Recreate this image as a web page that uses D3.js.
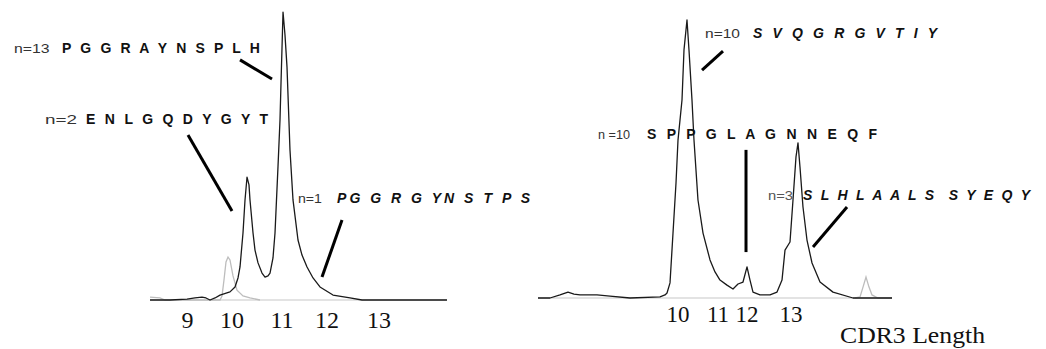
<!DOCTYPE html>
<html>
<head>
<meta charset="utf-8">
<script src="https://cdn.jsdelivr.net/npm/d3@7"></script>
<style>
  body { margin: 0; background: #fff; }
  svg { display: block; }
  .seq { white-space: pre; }
</style>
</head>
<body>
<div id="chart"></div>
<script>
// ---- data: traces as [CDR3 length position, relative intensity] ----
const leftTrace = [
  [8.292, 0], [8.708, 0], [9.063, 0.3], [9.229, 0.7], [9.375, 1.0], [9.458, 0.7],
  [9.542, 0], [9.646, 0.7], [9.75, 1.7], [9.958, 2.8], [10.063, 4.5], [10.125, 7.6],
  [10.167, 11.4], [10.229, 23.1], [10.271, 34.5], [10.313, 42.4], [10.354, 39.7],
  [10.375, 34.5], [10.438, 23.1], [10.479, 17.2], [10.542, 12.8], [10.625, 9.3],
  [10.688, 7.9], [10.75, 8.3], [10.792, 9.3], [10.854, 14.5], [10.896, 23.1],
  [10.958, 45.9], [11.0, 62.1], [11.021, 74.8], [11.063, 99.3], [11.104, 91.4],
  [11.146, 80.3], [11.208, 51.7], [11.271, 34.5], [11.375, 20.7], [11.458, 15.5],
  [11.563, 11.4], [11.688, 7.6], [11.833, 4.5], [12.104, 1.7], [12.458, 0.7],
  [12.708, 0], [14.479, 0]
];
const leftControl = [
  [8.292, 1.0], [8.5, 0.7], [8.604, 0], [9.75, 0], [9.792, 1.4], [9.833, 6.9],
  [9.875, 13.1], [9.917, 14.8], [9.958, 13.8], [10.021, 8.3], [10.104, 3.4],
  [10.229, 1.4], [10.375, 0.7], [10.583, 0]
];
const rightTrace = [
  [6.162, 0], [6.486, 0], [6.757, 1.1], [6.973, 2.1], [7.135, 1.4], [7.297, 1.1],
  [7.757, 1.1], [8.108, 0.7], [8.649, 0], [9.459, 0.4], [9.595, 1.1], [9.649, 1.8],
  [9.730, 5.4], [9.811, 23.2], [9.892, 41.1], [9.946, 56.4], [10.054, 70.7],
  [10.108, 88.6], [10.189, 99.3], [10.243, 88.6], [10.324, 70.7], [10.378, 56.4],
  [10.486, 35], [10.622, 23.2], [10.811, 13.6], [10.946, 9.3], [11.081, 6.4],
  [11.270, 4.6], [11.432, 3.2], [11.568, 5.0], [11.703, 5.7], [11.811, 11.1],
  [11.892, 6.4], [11.973, 2.1], [12.162, 1.1], [12.432, 1.1], [12.622, 2.1],
  [12.757, 6.4], [12.838, 17.1], [12.973, 20.0], [13.054, 35], [13.135, 50.4],
  [13.189, 55.4], [13.243, 46.8], [13.324, 32.5], [13.432, 20.7], [13.568, 12.5],
  [13.784, 5.7], [14.135, 2.1], [14.676, 0], [15.730, 0]
];
const rightControl = [
  [14.730, 0], [14.865, 0.4], [14.946, 3.9], [15.027, 7.5], [15.108, 3.9],
  [15.189, 1.1], [15.351, 0], [15.730, 0]
];

// tick labels and where they sit on each trace
const leftTicks = ["9", "10", "11", "12", "13"];
const leftTickPos = [9.073, 10, 11.042, 11.979, 13.063];
const rightTicks = ["10", "11", "12", "13"];
const rightTickPos = [9.946, 11.027, 11.811, 13.0];

// annotations: count label, sequence, [x, y] anchors, leader line ends
const leftNotes = [
  { n: "n=13", seq: "P G G R A Y N S P L H", italic: false, nAt: [5.458, 85.2], nEnd: 6.2, seqAt: [6.458, 85.2], seqEnd: 10.583, line: [[10.167, 82.8], [10.833, 76.2]] },
  { n: "n=2", seq: "E N L G Q D Y G Y T", italic: false, nAt: [6.104, 60.7], nEnd: 6.77, seqAt: [6.958, 60.7], seqEnd: 10.75, line: [[9.083, 56.9], [10.0, 30.7]] },
  { n: "n=1", seq: "PG G R G YN S T P S", italic: true, nAt: [11.375, 33.4], nEnd: 11.875, seqAt: [12.188, 33.4], seqEnd: 16.208, line: [[12.292, 27.6], [11.875, 7.9]] }
];
const rightNotes = [
  { n: "n=10", seq: "S V Q G R G V T I Y", italic: true, nAt: [10.676, 92.9], nEnd: 11.622, seqAt: [11.973, 92.9], seqEnd: 16.946, line: [[11.162, 88.2], [10.595, 81.4]] },
  { n: "n =10", seq: "S P P G L A G N N E Q F", italic: false, nAt: [7.784, 56.8], nEnd: 8.649, seqAt: [9.108, 56.8], seqEnd: 15.324, line: [[11.784, 52.9], [11.784, 16.4]] },
  { n: "n=3", seq: "S L H L A A L S  S Y E Q Y", italic: true, nAt: [12.378, 35.0], nEnd: 13.054, seqAt: [13.324, 35.0], seqEnd: 19.459, line: [[14.514, 32.5], [13.595, 18.2]], small: true }
];

const width = 1046;
const height = 349;

const svg = d3.select("#chart")
  .append("svg")
  .attr("width", width)
  .attr("height", height);

function drawPanel(cfg) {
  const x = d3.scaleLinear().domain(cfg.xDomain).range(cfg.xRange);
  const y = d3.scaleLinear().domain([0, 100]).range(cfg.yRange);
  const g = svg.append("g");

  // light baseline
  const ext = d3.extent(cfg.trace, d => d[0]);
  g.append("line")
    .attr("x1", x(ext[0])).attr("x2", x(ext[1]))
    .attr("y1", y(0)).attr("y2", y(0))
    .style("stroke", "#c8c8c8")
    .style("stroke-width", 1.2);

  const line = d3.line().x(d => x(d[0])).y(d => y(d[1]));

  // control trace (grey) under the sample trace
  g.append("path")
    .attr("d", line(cfg.control))
    .style("fill", "none")
    .style("stroke", "#bdbdbd")
    .style("stroke-width", 1.3);

  g.append("path")
    .attr("d", line(cfg.trace))
    .style("fill", "none")
    .style("stroke", "#1a1a1a")
    .style("stroke-width", 1.3)
    .style("stroke-linejoin", "round");

  // tick labels
  g.selectAll(".tick")
    .data(cfg.ticks)
    .join("text")
    .attr("class", "tick")
    .attr("x", (d, i) => x(cfg.tickPos[i]))
    .attr("y", cfg.tickY)
    .attr("text-anchor", "middle")
    .style("font-family", "'Liberation Serif', 'Times New Roman', serif")
    .style("font-size", cfg.tickSize + "px")
    .style("fill", "#111")
    .text(d => d);

  // annotations
  cfg.notes.forEach(function (d) {
    g.append("text")
      .attr("x", x(d.nAt[0]))
      .attr("y", y(d.nAt[1]))
      .attr("textLength", x(d.nEnd) - x(d.nAt[0]))
      .attr("lengthAdjust", "spacingAndGlyphs")
      .style("font-family", "'Liberation Sans', Arial, sans-serif")
      .style("font-size", d.small ? "12px" : "13px")
      .style("fill", d.small ? "#555" : "#333")
      .text(d.n);

    g.append("text")
      .attr("class", "seq")
      .attr("x", x(d.seqAt[0]))
      .attr("y", y(d.seqAt[1]))
      .attr("textLength", x(d.seqEnd) - x(d.seqAt[0]))
      .attr("lengthAdjust", "spacing")
      .style("font-family", "'Liberation Sans', Arial, sans-serif")
      .style("font-size", "14px")
      .style("font-weight", "bold")
      .style("font-style", d.italic ? "italic" : "normal")
      .style("fill", "#111")
      .text(d.seq);

    g.append("line")
      .attr("x1", x(d.line[0][0])).attr("y1", y(d.line[0][1]))
      .attr("x2", x(d.line[1][0])).attr("y2", y(d.line[1][1]))
      .style("stroke", "#000")
      .style("stroke-width", 3);
  });
  return { x: x, y: y };
}

drawPanel({
  xDomain: [8, 15], xRange: [136, 472], yRange: [300, 10],
  trace: leftTrace, control: leftControl,
  ticks: leftTicks, tickPos: leftTickPos, tickY: 328, tickSize: 24,
  notes: leftNotes
});

drawPanel({
  xDomain: [6, 16], xRange: [532, 902], yRange: [298, 18],
  trace: rightTrace, control: rightControl,
  ticks: rightTicks, tickPos: rightTickPos, tickY: 322, tickSize: 23,
  notes: rightNotes
});

// axis title
svg.append("text")
  .attr("x", 840)
  .attr("y", 343)
  .attr("textLength", 145)
  .attr("lengthAdjust", "spacingAndGlyphs")
  .style("font-family", "'Liberation Serif', 'Times New Roman', serif")
  .style("font-size", "24px")
  .style("fill", "#111")
  .text("CDR3 Length");
</script>
</body>
</html>
